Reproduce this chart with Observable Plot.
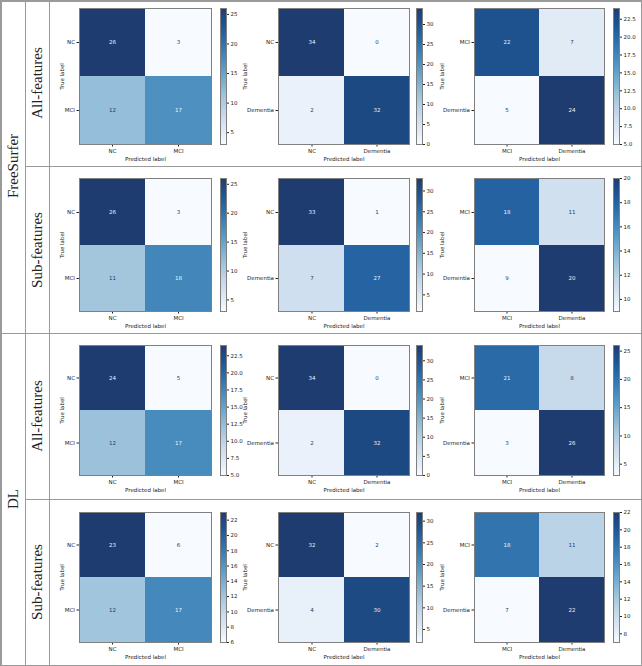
<!DOCTYPE html>
<html><head><meta charset="utf-8">
<script src="https://cdn.jsdelivr.net/npm/d3@7"></script>
<script src="https://cdn.jsdelivr.net/npm/@observablehq/plot@0.6"></script>
<style>
body{margin:0;background:#fff;}
#root{position:relative;width:642px;height:666px;overflow:hidden;background:#fff;}
.ln{position:absolute;background:#9a9a9a;}
.lab{position:absolute;font-family:"Liberation Serif",serif;font-size:15px;color:#222;transform:translate(-50%,-50%) rotate(-90deg);white-space:nowrap;line-height:1;}
</style></head><body><div id="root"></div>
<script>
// ---- data ----
const methods = ["FreeSurfer", "DL"];
const featureSets = ["All-features", "Sub-features"];
const labelsNcMci = ["NC", "MCI"];
const labelsNcDem = ["NC", "Dementia"];
const labelsMciDem = ["MCI", "Dementia"];
const tasks = [labelsNcMci, labelsNcDem, labelsMciDem];

// confusion matrices [true][predicted], columns: NC/MCI, NC/Dementia, MCI/Dementia
const fsAll = [[[26, 3], [12, 17]], [[34, 0], [2, 32]], [[22, 7], [5, 24]]];
const fsSub = [[[26, 3], [11, 18]], [[33, 1], [7, 27]], [[18, 11], [9, 20]]];
const dlAll = [[[24, 5], [12, 17]], [[34, 0], [2, 32]], [[21, 8], [3, 26]]];
const dlSub = [[[23, 6], [12, 17]], [[32, 2], [4, 30]], [[18, 11], [7, 22]]];

// colorbar tick labels
const fsAllTicks = [["5","10","15","20","25"], ["0","5","10","15","20","25","30"], ["5.0","7.5","10.0","12.5","15.0","17.5","20.0","22.5"]];
const fsSubTicks = [["5","10","15","20","25"], ["5","10","15","20","25","30"], ["10","12","14","16","18","20"]];
const dlAllTicks = [["5.0","7.5","10.0","12.5","15.0","17.5","20.0","22.5"], ["0","5","10","15","20","25","30"], ["5","10","15","20","25"]];
const dlSubTicks = [["6","8","10","12","14","16","18","20","22"], ["5","10","15","20","25","30"], ["8","10","12","14","16","18","20","22"]];

const rows = [fsAll, fsSub, dlAll, dlSub];
const rowTicks = [fsAllTicks, fsSubTicks, dlAllTicks, dlSubTicks];

// ---- layout ----
const root = document.getElementById("root");
const colX = [79, 278, 474], colW = [132, 131, 130];
const cbX = [220, 416, 613], cbW = 6;
const rowY = [8, 178, 345, 512], rowH = [136, 133, 130, 130];
const yLabOff = [19, 35, 34];
const FONT = "DejaVu Sans";
const FS = 5.5;

// Blues colormap, slightly muted like the printed figure
const tint = d3.rgb(120, 110, 130);
const blues = t => d3.interpolateRgb(d3.interpolateBlues(t), tint)(0.2 * t);

function place(el, left, top) {
  el.style.position = "absolute";
  el.style.left = left + "px";
  el.style.top = top + "px";
  el.style.maxWidth = "none";
  root.appendChild(el);
}

function matrix(vals, labels, x0, y0, w, h, yoff) {
  const data = [];
  labels.forEach((t, i) => labels.forEach((p, j) => data.push({t, p, v: vals[i][j]})));
  const flat = vals.flat();
  const lo = d3.min(flat), hi = d3.max(flat), mid = (lo + hi) / 2;
  const ML = 50, MB = 24, MT = 2, MR = 2;
  const svg = Plot.plot({
    width: w + ML + MR, height: h + MT + MB,
    marginLeft: ML, marginBottom: MB, marginTop: MT, marginRight: MR,
    style: {fontFamily: FONT, fontSize: FS + "px", background: "transparent", color: "#222"},
    x: {domain: labels, padding: 0, label: "Predicted label", labelAnchor: "center", labelOffset: 16, tickSize: 2.5, tickPadding: 2},
    y: {domain: labels, padding: 0, label: "True label", labelAnchor: "center", labelOffset: yoff, tickSize: 2.5, tickPadding: 2},
    color: {type: "linear", interpolate: blues, domain: [lo, hi]},
    marks: [
      Plot.cell(data, {x: "p", y: "t", fill: "v"}),
      Plot.text(data.filter(d => d.v > mid), {x: "p", y: "t", text: d => String(d.v), fill: "#eef2f8", fontSize: FS}),
      Plot.text(data.filter(d => d.v <= mid), {x: "p", y: "t", text: d => String(d.v), fill: "#1f3a6e", fontSize: FS}),
      Plot.frame({stroke: "#808080", strokeWidth: 1})
    ]
  });
  place(svg, x0 - ML, y0 - MT);
  return [lo, hi];
}

function colorbar(lo, hi, ticks, x0, y0, h) {
  const MT = 2, MB = 2, MR = 22;
  const svg = Plot.plot({
    width: cbW + MR, height: h + MT + MB,
    marginLeft: 0, marginRight: MR, marginTop: MT, marginBottom: MB,
    style: {fontFamily: FONT, fontSize: FS + "px", background: "transparent", color: "#222"},
    x: {domain: [0, 1], axis: null},
    y: {domain: [lo, hi], axis: "right", label: null, ticks: ticks.map(Number),
        tickFormat: d => ticks.find(s => +s === d), tickSize: 2, tickPadding: 2},
    color: {type: "linear", interpolate: blues, domain: [lo, hi]},
    marks: [
      Plot.raster({fill: (x, y) => y, x1: 0, x2: 1, y1: lo, y2: hi}),
      Plot.frame({stroke: "#808080", strokeWidth: 1})
    ]
  });
  place(svg, x0, y0 - MT);
}

rows.forEach((row, r) => {
  row.forEach((vals, c) => {
    const [lo, hi] = matrix(vals, tasks[c], colX[c], rowY[r], colW[c], rowH[r], yLabOff[c]);
    colorbar(lo, hi, rowTicks[r][c], cbX[c], rowY[r], rowH[r]);
  });
});

// ---- frame lines & labels ----
function line(left, top, width, height) {
  const d = document.createElement("div");
  d.className = "ln";
  Object.assign(d.style, {left: left + "px", top: top + "px", width: width + "px", height: height + "px"});
  root.appendChild(d);
}
line(0, 0, 642, 1.5);
line(0, 664.5, 642, 1.5);
line(0, 0, 1.5, 666);
line(640.5, 0, 1.5, 666);
line(24.5, 0, 1.5, 666);
line(48.5, 0, 1.5, 666);
line(25, 165.5, 617, 1.5);
line(0, 332.5, 642, 1.5);
line(25, 498.5, 617, 1.5);

function label(text, cx, cy) {
  const d = document.createElement("div");
  d.className = "lab";
  d.textContent = text;
  Object.assign(d.style, {left: cx + "px", top: cy + "px"});
  root.appendChild(d);
}
label(methods[0], 12.5, 166);
label(methods[1], 12.5, 499);
const subY = [83, 250, 416, 582];
subY.forEach((y, i) => label(featureSets[i % 2], 37, y));
</script>
</body></html>
